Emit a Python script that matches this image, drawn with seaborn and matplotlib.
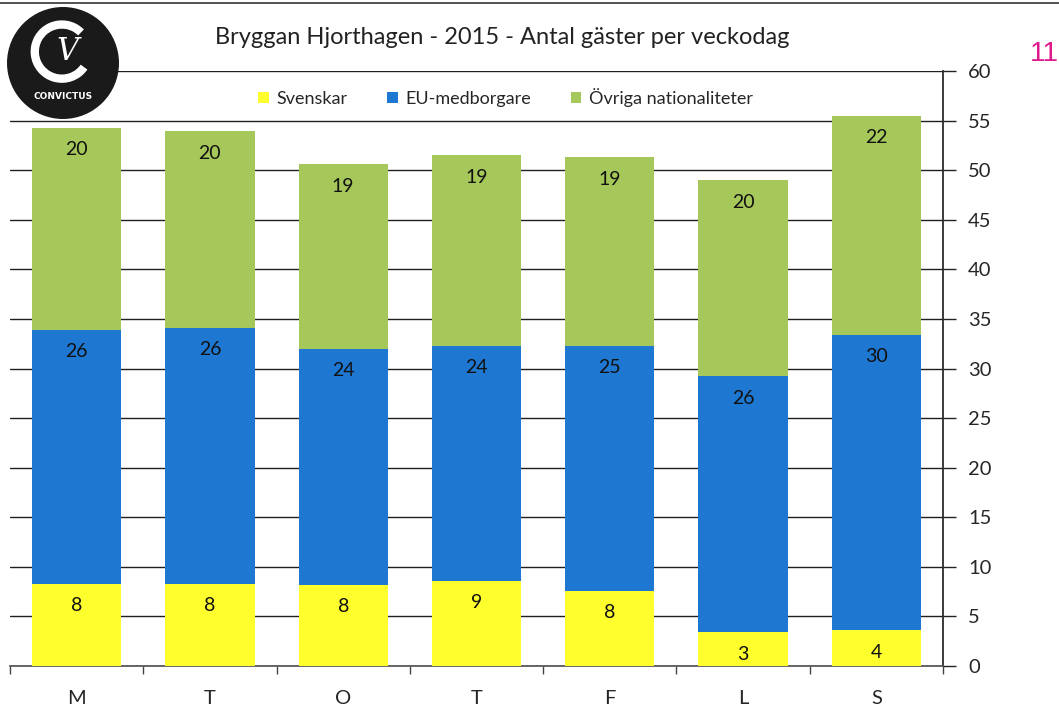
import matplotlib.pyplot as plt
from matplotlib.patches import Arc, Circle, Patch
import numpy as np
import pandas as pd
import seaborn as sns

# Data (segment heights; labels are the rounded values).
days = ["M", "T", "O", "T ", "F", "L", "S"]
svenskar = [8.3, 8.3, 8.2, 8.6, 7.6, 3.4, 3.6]
eu_medborgare = [25.6, 25.8, 23.8, 23.7, 24.7, 25.8, 29.8]
ovriga = [20.4, 19.8, 18.6, 19.2, 19.0, 19.8, 22.1]

series_names = ["Svenskar", "EU-medborgare", "Övriga nationaliteter"]
colors = ["#FFFF2E", "#1E78D2", "#A6C759"]
y_ticks = list(range(0, 61, 5))

title = "Bryggan Hjorthagen - 2015 - Antal gäster per veckodag"

sns.set_theme(style="white")
plt.rcParams["font.family"] = ["Lato", "DejaVu Sans"]

df = pd.DataFrame(
    {"day": days, "Svenskar": svenskar, "EU-medborgare": eu_medborgare,
     "Övriga nationaliteter": ovriga}
)

fig = plt.figure(figsize=(10.59, 7.05), dpi=100)
ax = fig.add_axes([10 / 1059, 39 / 705, 933 / 1059, 595 / 705])

bottom = np.zeros(len(days))
for name, color in zip(series_names, colors):
    sns.barplot(
        data=df, x="day", y=name, color=color, saturation=1, width=0.67,
        bottom=bottom, ax=ax, zorder=3, linewidth=0,
    )
    container = ax.containers[-1]
    ax.bar_label(
        container,
        labels=[f"{v:.0f}" for v in df[name]],
        label_type="edge", padding=-22, fontsize=14, color="#111111",
    )
    bottom = bottom + df[name].values

ax.set_ylim(0, 60)
ax.set_xlim(-0.5, len(days) - 0.5)
ax.set_yticks(y_ticks)
ax.yaxis.tick_right()
ax.yaxis.set_label_position("right")
ax.set_xlabel("")
ax.set_ylabel("")
ax.set_xticks(range(len(days)))
ax.set_xticklabels([d.strip() for d in days])
ax.tick_params(axis="y", labelsize=14.5, direction="out", length=9, width=1,
               color="#222222", pad=9, right=True)
ax.tick_params(axis="x", labelsize=14.5, length=0, pad=17)
# category boundary ticks on the x axis
ax.set_xticks(np.arange(-0.5, len(days), 1), minor=True)
ax.tick_params(axis="x", which="minor", bottom=True, length=6, width=1,
               color="#444444")

ax.grid(axis="y", color="#1f1f1f", linewidth=1, zorder=0)
ax.set_axisbelow(True)
for side in ["left", "top"]:
    ax.spines[side].set_visible(False)
ax.spines["right"].set_color("#222222")
ax.spines["bottom"].set_color("#555555")

handles = [Patch(facecolor=c, edgecolor="none", label=n)
           for n, c in zip(series_names, colors)]
ax.legend(
    handles=handles, loc="center", bbox_to_anchor=(0.531, 0.956), ncol=3,
    frameon=False, fontsize=13, handlelength=0.6, handleheight=0.6,
    handletextpad=0.4, columnspacing=2.2,
)

fig.text(502 / 1059, 1 - 38 / 705, title, ha="center", va="center",
         fontsize=17, color="#222222")
fig.text(1044 / 1059, 1 - 54 / 705, "11", ha="center", va="center",
         fontsize=20, color="#E0188A", family="Liberation Sans")

# page border line at the top
fig.add_artist(plt.Line2D([0, 1], [1 - 3 / 705, 1 - 3 / 705],
                          color="#333333", linewidth=1.2))

# logo
logo = fig.add_axes([6 / 1059, 1 - 120 / 705, 114 / 1059, 114 / 705], zorder=5)
logo.set_xlim(-1, 1)
logo.set_ylim(-1, 1)
logo.set_aspect("equal")
logo.axis("off")
logo.add_patch(Circle((0, 0), 0.97, color="#1a1a1a"))
logo.add_patch(Arc((-0.02, 0.2), 0.95, 0.95, theta1=45, theta2=325,
                   color="white", linewidth=6))
logo.text(0.08, 0.2, "V", color="white", fontsize=22, ha="center",
          va="center", family="DejaVu Serif", style="italic")
logo.text(0, -0.58, "CONVICTUS", color="white", fontsize=6.5, ha="center",
          va="center", fontweight="bold", family="DejaVu Sans")

fig.savefig("out.png", dpi=100)
